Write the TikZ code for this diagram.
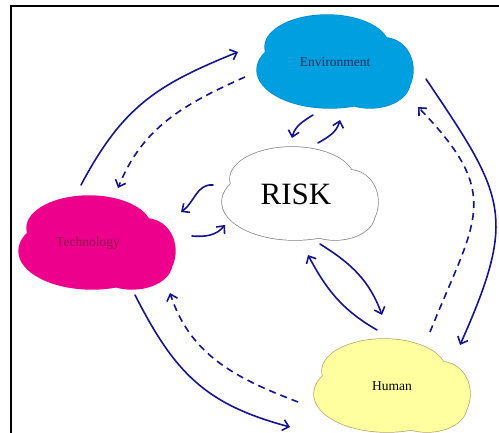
\documentclass[tikz,border=0pt]{standalone}
\usepackage{fontspec}
\setmainfont{Liberation Serif}
\usetikzlibrary{arrows.meta,calc,backgrounds}
\definecolor{envblue}{RGB}{0,160,224}
\definecolor{envedge}{RGB}{0,135,200}
\definecolor{envtext}{RGB}{25,45,90}
\definecolor{techpink}{RGB}{236,0,140}
\definecolor{techtext}{RGB}{140,20,80}
\definecolor{humyellow}{RGB}{255,255,160}
\definecolor{humedge}{RGB}{175,165,100}
\definecolor{linkblue}{RGB}{20,20,145}
% one cloud outline, made of four ellipses
\newcommand\puffs{(-8,15) ellipse [x radius=62pt,y radius=32pt]
  (50,-8) ellipse [x radius=28pt,y radius=32pt]
  (-5,-8) ellipse [x radius=73pt,y radius=38pt]
  (35,-20) ellipse [x radius=40pt,y radius=26pt]}
\newcommand\cloudat[3]{%
  \begin{scope}[shift={(#1)}]
    \filldraw[fill=#2,draw=#3,line width=1.4pt] \puffs;
    \fill[#2] \puffs;
  \end{scope}}
\begin{document}
\begin{tikzpicture}[x=1pt,y=1pt,
    blob/.style={inner sep=0pt,minimum width=155pt,minimum height=93pt,font=\fontsize{13.5}{16}\selectfont},
    link/.style={draw=linkblue,line width=1.6pt,line cap=round,-{Straight Barb[length=6pt,width=11pt,line width=1.6pt]}},
    back/.style={link,line cap=butt,dash pattern=on 7pt off 5pt}]
    \useasboundingbox (0,0) rectangle (499,433);
    \clip (0,0) rectangle (499,433);
    \draw[line width=1.5pt] (11,-2) -- (11,427) -- (501,427);

    \node[blob,text=envtext] (Env) at (335,371) {Environment};%
    \node[blob,font=\fontsize{31}{36}\selectfont] (Risk) at (300,239) {\kern-4pt RISK\kern4pt};%
    \node[blob,text=techtext] (Tech) at (97,190) {\kern-9pt Technology\kern9pt};%
    \node[blob] (Hum) at (392,47) {Human};%

    \begin{scope}[on background layer]
      \cloudat{Env}{envblue}{envedge}
      \cloudat{Risk}{white}{gray}
      \cloudat{Tech}{techpink}{techpink}
      \cloudat{Hum}{humyellow}{humedge}
    \end{scope}

    % outer ring
    \draw[link] ($(Tech)+(-16,58)$) to[out=62,in=202,looseness=1.1] ($(Env)+(-97,10)$);%
    \draw[back] ($(Env)+(-90,-15)$) to[out=204,in=68] ($(Tech)+(21,55)$);%
    \draw[link] ($(Env)+(91,-17)$) to[out=-56,in=66,looseness=1.35] ($(Hum)+(68,41)$);%
    \draw[back] ($(Hum)+(38,54)$) to[out=68,in=-46,looseness=1.4] ($(Env)+(83,-45)$);%
    \draw[link] ($(Tech)+(38,-52)$) to[out=-63,in=165,looseness=1.1] ($(Hum)+(-102,-41)$);%
    \draw[back] ($(Hum)+(-94,-16)$) to[out=159,in=288] ($(Tech)+(73,-50)$);%

    % around the risk
    \draw[link] ($(Risk)+(18,51)$) to[out=30,in=255] ($(Env)+(5,-58)$);%
    \draw[link] ($(Env)+(-22,-53)$) to[out=212,in=76] ($(Risk)+(-8,56)$);%
    \draw[link] ($(Risk)+(-87,9)$) to[out=175,in=35] ($(Tech)+(84,31)$);%
    \draw[link] ($(Tech)+(95,7)$) to[out=-5,in=230] ($(Risk)+(-75,-31)$);%
    \draw[link] ($(Risk)+(20,-50)$) to[out=-32,in=110] ($(Hum)+(-10,71)$);%
    \draw[link] ($(Hum)+(-15,56)$) to[out=150,in=-62] ($(Risk)+(8,-61)$);%
\end{tikzpicture}
\end{document}
